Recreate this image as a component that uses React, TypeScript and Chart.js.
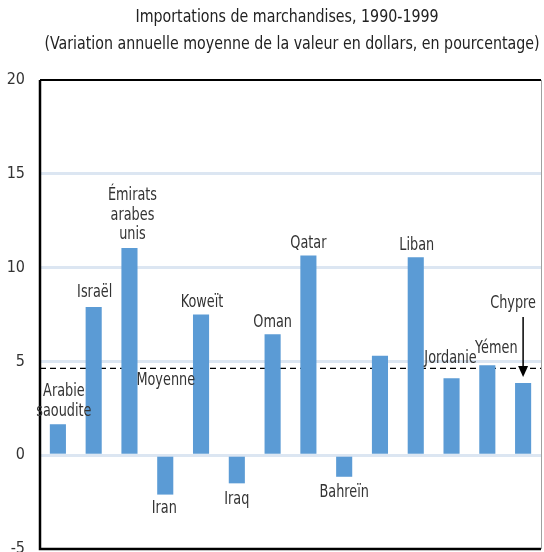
import React, { useEffect, useRef } from "react";
import { Chart, registerables } from "chart.js";

Chart.register(...registerables);

const titleText = "Importations de marchandises, 1990-1999";
const subtitleText = "(Variation annuelle moyenne de la valeur en dollars, en pourcentage)";

const labelLines: string[][] = [
  ["Arabie", "saoudite"],
  ["Israël"],
  ["Émirats", "arabes", "unis"],
  ["Iran"],
  ["Koweït"],
  ["Iraq"],
  ["Oman"],
  ["Qatar"],
  ["Bahreïn"],
  [],
  ["Liban"],
  ["Jordanie"],
  ["Yémen"],
  ["Chypre"],
];
const categories = labelLines.map((l) => l.join(" "));
const values = [1.65, 7.9, 11.05, -2.1, 7.5, -1.5, 6.45, 10.65, -1.15, 5.3, 10.55, 4.1, 4.8, 3.85];
const average = 4.63;
const averageLabel = "Moyenne";
const yMin = -5;
const yMax = 20;
const yStep = 5;

const FONT = '"Liberation Sans Narrow", "DejaVu Sans Condensed", "Arial Narrow", sans-serif';
const TEXT = "#333333";
const BAR = "#5b9bd5";
const SX = 0.84;
const TITLE_SX = 0.93;

// per-label styling offsets: [dx, gap from bar end to nearest line centre]
const labelOffsets: [number, number][] = [
  [6, 13], [1, 14], [3, 13], [-1, 14], [1, 12], [0, 16], [0, 12],
  [0, 12], [0, 16], [0, 12], [1, 12], [-1, 20], [9, 17], [-10, 79],
];
const arrowIndex = 13;

function narrowText(ctx: any, t: string, x: number, y: number, sx: number = SX) {
  ctx.save();
  ctx.translate(x, y);
  ctx.scale(sx, 1);
  ctx.fillText(t, 0, 0);
  ctx.restore();
}

const overlayPlugin = {
  id: "overlay",
  beforeDatasetsDraw(chart: any) {
    const { ctx, chartArea, scales } = chart;
    const y = scales.y.getPixelForValue(average);
    ctx.save();
    ctx.strokeStyle = "#000";
    ctx.lineWidth = 1.3;
    ctx.setLineDash([6, 4]);
    ctx.beginPath();
    ctx.moveTo(chartArea.left, y);
    ctx.lineTo(chartArea.right, y);
    ctx.stroke();
    ctx.restore();
  },
  afterDraw(chart: any) {
    const { ctx, chartArea, scales } = chart;
    const xs = scales.x;
    const ys = scales.y;
    ctx.save();
    // titles
    ctx.fillStyle = "#222";
    ctx.font = `17px ${FONT}`;
    ctx.textAlign = "center";
    ctx.textBaseline = "middle";
    narrowText(ctx, titleText, 287, 18, TITLE_SX);
    narrowText(ctx, subtitleText, 292, 45, TITLE_SX);

    // frame
    ctx.strokeStyle = "#000";
    ctx.lineWidth = 2.5;
    ctx.beginPath();
    ctx.moveTo(chartArea.left, chartArea.top);
    ctx.lineTo(chartArea.left, chartArea.bottom);
    ctx.lineTo(chartArea.right, chartArea.bottom);
    ctx.stroke();
    ctx.lineWidth = 2;
    ctx.beginPath();
    ctx.moveTo(chartArea.left, chartArea.top);
    ctx.lineTo(chartArea.right, chartArea.top);
    ctx.stroke();
    ctx.strokeStyle = "#a0a0a0";
    ctx.lineWidth = 1;
    ctx.beginPath();
    ctx.moveTo(chartArea.right + 0.5, chartArea.top);
    ctx.lineTo(chartArea.right + 0.5, chartArea.bottom);
    ctx.stroke();

    // bar labels
    ctx.fillStyle = TEXT;
    ctx.font = `17px ${FONT}`;
    const lh = 19.5;
    labelLines.forEach((lines, i) => {
      if (!lines.length) return;
      const [dx, gap] = labelOffsets[i];
      const cx = xs.getPixelForValue(i) + dx;
      const v = values[i];
      const end = ys.getPixelForValue(v);
      if (v >= 0) {
        const last = end - gap;
        lines.forEach((t, k) => {
          narrowText(ctx, t, cx, last - (lines.length - 1 - k) * lh);
        });
      } else {
        const first = end + gap;
        lines.forEach((t, k) => narrowText(ctx, t, cx, first + k * lh));
      }
    });

    // average label
    narrowText(ctx, averageLabel, xs.getPixelForValue(3) + 0.5, ys.getPixelForValue(average) + 12);

    // arrow for Chypre
    const ax = xs.getPixelForValue(arrowIndex);
    const top = ys.getPixelForValue(values[arrowIndex]) - labelOffsets[arrowIndex][1] + 13;
    const tip = ys.getPixelForValue(values[arrowIndex]) - 6;
    ctx.strokeStyle = "#000";
    ctx.fillStyle = "#000";
    ctx.lineWidth = 1.5;
    ctx.beginPath();
    ctx.moveTo(ax, top);
    ctx.lineTo(ax, tip - 8);
    ctx.stroke();
    ctx.beginPath();
    ctx.moveTo(ax - 5, tip - 11);
    ctx.lineTo(ax + 5, tip - 11);
    ctx.lineTo(ax, tip);
    ctx.closePath();
    ctx.fill();
    ctx.restore();
  },
};

export default function App() {
  const ref = useRef<HTMLCanvasElement | null>(null);
  useEffect(() => {
    if (!ref.current) return;
    const chart = new Chart(ref.current, {
      type: "bar",
      data: {
        labels: categories,
        datasets: [
          {
            data: values,
            backgroundColor: BAR,
            borderWidth: 0,
            categoryPercentage: 1,
            barPercentage: 0.45,
          },
        ],
      },
      options: {
        responsive: false,
        animation: false,
        devicePixelRatio: 1,
        layout: { padding: { top: 80, bottom: 3, left: 0, right: 3 } },
        plugins: {
          legend: { display: false },
          tooltip: { enabled: false },
          title: { display: false },
        },
        scales: {
          x: { display: false },
          y: {
            min: yMin,
            max: yMax,
            ticks: {
              stepSize: yStep,
              padding: 15,
              color: TEXT,
              font: { family: FONT, size: 16 },
            },
            grid: {
              drawTicks: false,
              lineWidth: 3,
              color: (c: any) =>
                c.tick && (c.tick.value === yMax || c.tick.value === yMin) ? "rgba(0,0,0,0)" : "#dce6f2",
            },
            border: { display: false },
            afterFit: (s: any) => {
              s.width = 40;
              s.paddingTop = 0;
              s.paddingBottom = 0;
            },
          },
        },
      },
      plugins: [overlayPlugin],
    });
    return () => chart.destroy();
  }, []);
  return (
    <div style={{ position: "fixed", left: 0, top: 0, width: 544, height: 552, background: "#fff" }}>
      <canvas ref={ref} width={544} height={552} style={{ display: "block" }} />
    </div>
  );
}
